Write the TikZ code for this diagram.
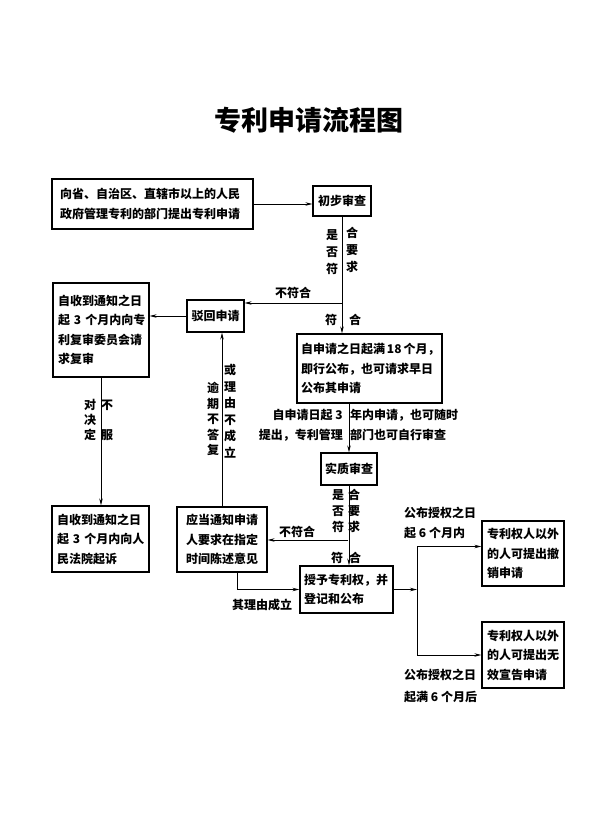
\documentclass[tikz,border=0pt]{standalone}
\usepackage{fontspec}
\setmainfont{Noto Sans CJK SC}
\usepackage{tikz}
\usetikzlibrary{positioning,arrows.meta}

\tikzset{
  caixa/.style={draw, line width=1.2pt, inner sep=0pt, align=left,
    font=\bfseries\fontsize{12}{19.5}\selectfont},
  rotulo/.style={inner sep=0pt, align=center,
    font=\bfseries\fontsize{12}{17}\selectfont},
  seta/.style={line width=0.9pt, -{Stealth[length=7pt,width=3.5pt]}}
}

\begin{document}
\begin{tikzpicture}[x=1pt,y=-1pt]
    \useasboundingbox (0,0) rectangle (591,836);

    % 标题
    \node[font=\bfseries\fontsize{27}{27}\selectfont] (titulo) at (309,120) {专利申请流程图};

    % 方框
    \node[caixa, minimum width=201, minimum height=50, text width=185] (pedido) at (152.5,204)
      {向省、自治区、直辖市以上的人民\\政府管理专利的部门提出专利申请};
    \node[caixa, minimum width=58, minimum height=30, align=center] (inicial) at (342,201) {初步审查};
    \node[caixa, minimum width=57, minimum height=32, align=center] (rejeita) at (215.5,316) {驳回申请};
    \node[caixa, minimum width=96, minimum height=94, text width=86] (reexame) at (101,330)
      {自收到通知之日\\起~3~个月内向专\\利复审委员会请\\求复审};
    \node[caixa, minimum width=145, minimum height=69, text width=137] (publica) at (369.5,368.5)
      {自申请之日起满\,18\,个月，\\即行公布，也可请求早日\\公布其申请};
    \node[caixa, minimum width=56, minimum height=32, align=center] (substancial) at (349,469) {实质审查};
    \node[caixa, minimum width=90, minimum height=65, text width=72] (aviso) at (222,539.5)
      {应当通知申请\\人要求在指定\\时间陈述意见};
    \node[caixa, minimum width=97, minimum height=66, text width=87] (tribunal) at (100.5,539)
      {自收到通知之日\\起~3~个月内向人\\民法院起诉};
    \node[caixa, minimum width=93, minimum height=47, text width=85] (concede) at (346.5,589.5)
      {授予专利权，并\\登记和公布};
    \node[caixa, minimum width=82, minimum height=65, text width=72] (revoga) at (523,553.5)
      {专利权人以外\\的人可提出撤\\销申请};
    \node[caixa, minimum width=82, minimum height=66, text width=72] (invalida) at (523,655)
      {专利权人以外\\的人可提出无\\效宣告申请};

    % 连线
    \coordinate (bif1) at (342,303);
    \coordinate (bif2) at (348,540);
    \coordinate (garfo) at (417,589);
    \draw[seta] (pedido) -- (pedido -| inicial.west);
    \draw[seta] (inicial.south) -- (inicial.south |- publica.north);
    \draw[seta] (bif1) -- (bif1 -| rejeita.east);
    \draw[seta] (rejeita.west) -- (rejeita.west -| reexame.east);
    \draw[seta] (reexame.south) -- (reexame.south |- tribunal.north);
    \draw[seta] (publica.south -| substancial.north) -- (substancial.north);
    \draw[seta] (substancial.south) -- (substancial.south |- concede.north);
    \draw[seta] (bif2) -- (bif2 -| aviso.east);
    \draw[seta] (aviso.north) -- (aviso.north |- rejeita.south);
    \draw[seta] ([xshift=15pt]aviso.south) |- (concede.west);
    \draw[seta] (concede.east) -- (concede.east -| garfo);
    \draw[seta] (garfo) |- ([yshift=7pt]revoga.west);
    \draw[seta] (garfo) |- (invalida.west);

    % 标注
    \node[rotulo] (pergunta1) at (332,252) {是\\否\\符};
    \node[rotulo] (requisito1) at (352,250) {合\\要\\求};
    \node[rotulo] (naoconf1) at (293,293) {不符合};
    \node[rotulo] (conf1a) at (331,320) {符};
    \node[rotulo] (conf1b) at (355,320) {合};
    \node[rotulo, align=right, anchor=east, font=\bfseries\fontsize{12}{20}\selectfont] (prazoL) at (343,425)
      {自申请日起 3\\提出，专利管理};
    \node[rotulo, align=left, anchor=west, font=\bfseries\fontsize{12}{20}\selectfont] (prazoR) at (350,425)
      {年内申请，也可随时\\部门也可自行审查};
    \node[rotulo, font=\bfseries\fontsize{12}{15}\selectfont] (contra) at (90,420) {对\\决\\定};
    \node[rotulo, font=\bfseries\fontsize{12}{15}\selectfont] (naoaceita) at (107,420) {不\\[15pt]服};
    \node[rotulo, font=\bfseries\fontsize{12}{15.5}\selectfont] (atraso) at (213,419) {逾\\期\\不\\答\\复};
    \node[rotulo, font=\bfseries\fontsize{12}{16.5}\selectfont] (motivo) at (230,411) {或\\理\\由\\不\\成\\立};
    \node[rotulo, font=\bfseries\fontsize{12}{16}\selectfont] (pergunta2) at (338,511) {是\\否\\符};
    \node[rotulo, font=\bfseries\fontsize{12}{16}\selectfont] (requisito2) at (354,511) {合\\要\\求};
    \node[rotulo] (naoconf2) at (297,532) {不符合};
    \node[rotulo] (conf2a) at (337,558) {符};
    \node[rotulo] (conf2b) at (355,558) {合};
    \node[rotulo] (razao) at (262,605) {其理由成立};
    \node[rotulo, align=left, anchor=west, font=\bfseries\fontsize{12}{20}\selectfont] (dentro) at (404,523)
      {公布授权之日\\起 6 个月内};
    \node[rotulo, align=left, anchor=west, font=\bfseries\fontsize{12}{22}\selectfont] (depois) at (404,686)
      {公布授权之日\\起满 6 个月后};
\end{tikzpicture}
\end{document}
